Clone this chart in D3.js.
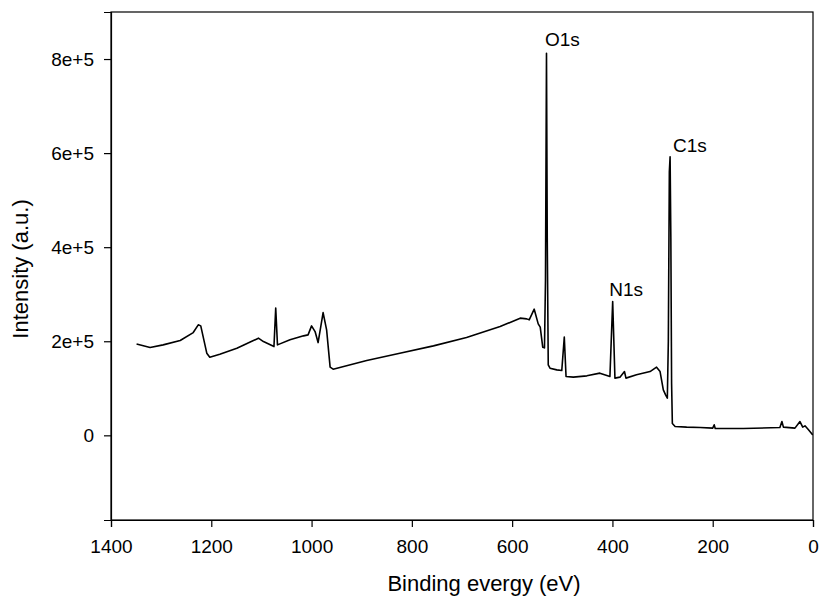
<!DOCTYPE html>
<html><head><meta charset="utf-8">
<script src="https://cdn.jsdelivr.net/npm/d3@7"></script>
<style>
html,body{margin:0;padding:0;background:#fff;}
svg text{font-family:"Liberation Sans",Arial,sans-serif;fill:#000;}
</style></head>
<body>
<svg id="chart" width="823" height="607"></svg>
<script>
// ---- data (binding energy in eV, intensity in counts) ----
const energy = [1349,1322,1296,1262,1236,1226,1221,1209,1203,1183,1149,1116,1106,1096,1075,1071.5,1068,1043,1016,1007,1000,993,987,977,970,963,957,890,824,757,691,624,584,571,566,556,548,544,539,535.5,533.5,531.5,530,528,524.5,511,501,496,492.5,478,451,425,405,399.5,395,385,376,373,352,325,312,305,298.5,294,290.5,288.5,286.5,285,283.5,282,280.5,275,252,225,200,197,195,139,66,62,59,36,26,20.5,16,9,0.5];
const intensity = [194000,186600,192300,201500,218500,234900,232700,174700,166200,172600,185300,201500,206600,199400,188700,270400,192300,203000,211500,213600,232700,220600,197200,261000,224200,145000,140700,159000,174700,190200,207900,231200,249100,247600,245500,268200,237000,230000,187500,186000,330000,812300,420000,149800,142800,139200,137700,208700,125000,123700,126500,132200,125000,284400,121600,123700,135600,121600,128600,135600,145000,135600,96700,86100,79100,200000,560000,592000,420000,110000,25000,18700,17400,16600,15300,22300,14500,14500,16600,29300,17400,15300,29300,17400,20200,11700,1000];
const peakLabels = ["O1s","N1s","C1s"];
const peakEnergy = [531.5,399.5,285];
const peakIntensity = [812300,284400,592000];
const xTicks = [1400,1200,1000,800,600,400,200,0];
const yTicks = [0,200000,400000,600000,800000];
const yTickLabels = ["0","2e+5","4e+5","6e+5","8e+5"];
const xTitle = "Binding evergy (eV)";
const yTitle = "Intensity (a.u.)";

// ---- layout ----
const L = 111, R = 813, T = 12, B = 520;
const svg = d3.select("#chart");
const x = d3.scaleLinear().domain([1400,0]).range([L,R]);
const y = d3.scaleLinear().domain([-180000,900000]).range([B,T]);

// frame (top & right)
svg.append("rect").attr("x",L).attr("y",T).attr("width",R-L).attr("height",B-T)
  .attr("fill","none").attr("stroke","#000").attr("stroke-width",1.2);

// clip
svg.append("clipPath").attr("id","clip").append("rect")
  .attr("x",L).attr("y",T).attr("width",R-L).attr("height",B-T);

// spectrum
const pts = energy.map((e,i)=>[e,intensity[i]]);
svg.append("path").datum(pts)
  .attr("clip-path","url(#clip)")
  .attr("fill","none").attr("stroke","#000").attr("stroke-width",1.6)
  .attr("stroke-linejoin","round")
  .attr("d", d3.line().x(d=>x(d[0])).y(d=>y(d[1])));

// axes
const xAxis = svg.append("g").attr("transform",`translate(0,${B})`)
  .call(d3.axisBottom(x).tickValues(xTicks).tickFormat(d3.format("d")).tickSize(7).tickPadding(13));
const yAxis = svg.append("g").attr("transform",`translate(${L},0)`)
  .call(d3.axisLeft(y).tickValues(yTicks).tickFormat((d,i)=>yTickLabels[i]).tickSize(7).tickPadding(10));
[xAxis,yAxis].forEach(g=>{
  g.select(".domain").attr("stroke","#000").attr("stroke-width",1.2);
  g.selectAll(".tick line").attr("stroke","#000").attr("stroke-width",1.2);
  g.selectAll(".tick text").attr("font-size","19px").attr("font-family","Liberation Sans, Arial, sans-serif").attr("fill","#000");
});

// titles
svg.append("text").attr("x",484).attr("y",591).attr("text-anchor","middle")
  .attr("font-size","22px").text(xTitle);
svg.append("text").attr("transform",`translate(28,269) rotate(-90)`)
  .attr("text-anchor","middle").attr("font-size","22px").text(yTitle);

// peak labels
const dxs = [-1.5,-3.5,3], dys = [-7,-6,-5];
peakLabels.forEach((lab,i)=>{
  svg.append("text").attr("x",x(peakEnergy[i])+dxs[i]).attr("y",y(peakIntensity[i])+dys[i])
    .attr("font-size","19px").text(lab);
});
</script>
</body></html>
